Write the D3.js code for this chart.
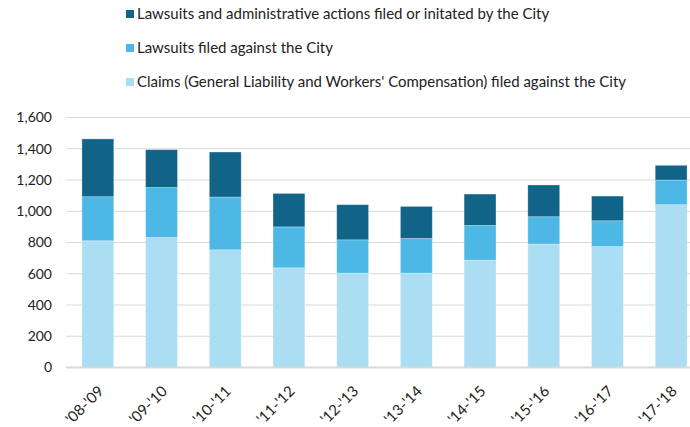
<!DOCTYPE html>
<html>
<head>
<meta charset="utf-8">
<script src="https://cdn.jsdelivr.net/npm/d3@7"></script>
<style>
  body { margin: 0; background: #fff; }
  text { font-family: Lato, "Open Sans", sans-serif; fill: #222; }
</style>
</head>
<body>
<script>
// fiscal years
const years = ["'08-'09", "'09-'10", "'10-'11", "'11-'12", "'12-'13", "'13-'14", "'14-'15", "'15-'16", "'16-'17", "'17-'18"];
// claims (general liability and workers' comp)
const claims = [811, 832, 753, 638, 604, 604, 687, 790, 774, 1042];
// lawsuits filed against the city
const suitsAgainst = [282, 320, 338, 262, 213, 222, 222, 175, 165, 158];
// lawsuits and admin actions by the city
const suitsByCity = [370, 242, 288, 214, 225, 205, 201, 203, 158, 94];
const yTicks = [0, 200, 400, 600, 800, 1000, 1200, 1400, 1600];

const seriesNames = [
    "Claims (General Liability and Workers' Compensation) filed against the City",
    "Lawsuits filed against the City",
    "Lawsuits and administrative actions filed or initated by the City"
];
const keys = ["claims", "against", "byCity"];
const colors = { claims: "#abdef3", against: "#4db8e6", byCity: "#126388" };

const w = 690, h = 427;
const m = { top: 117.5, right: -13, bottom: 59.5, left: 66 };

const svg = d3.select("body").append("svg")
    .attr("width", w)
    .attr("height", h);

const rows = years.map((y, i) => ({ year: y, claims: claims[i], against: suitsAgainst[i], byCity: suitsByCity[i] }));
const stacked = d3.stack().keys(keys)(rows);

const x = d3.scaleBand()
    .domain(years)
    .range([m.left, w - m.right])
    .paddingInner(0.5)
    .paddingOuter(0.25);

const y = d3.scaleLinear()
    .domain([0, 1600])
    .range([h - m.bottom, m.top]);

// gridlines
svg.append("g")
    .selectAll("line")
    .data(yTicks.slice(1))
    .enter()
    .append("line")
    .attr("x1", m.left)
    .attr("x2", w)
    .attr("y1", d => y(d))
    .attr("y2", d => y(d))
    .attr("stroke", "#d9d9d9")
    .attr("stroke-width", 1.2);

// bars
svg.append("g")
    .selectAll("g")
    .data(stacked)
    .enter()
    .append("g")
    .attr("fill", d => colors[d.key])
    .selectAll("rect")
    .data(d => d)
    .enter()
    .append("rect")
    .attr("x", d => x(d.data.year))
    .attr("y", d => y(d[1]))
    .attr("width", x.bandwidth())
    .attr("height", d => y(d[0]) - y(d[1]))
    .attr("stroke", "rgba(255,255,255,0.35)")
    .attr("stroke-width", 0.8);

// zero axis line
svg.append("line")
    .attr("x1", m.left)
    .attr("x2", w)
    .attr("y1", y(0))
    .attr("y2", y(0))
    .attr("stroke", "#d9d9d9")
    .attr("stroke-width", 2);

// y axis labels
const yAxis = d3.axisLeft(y).tickValues(yTicks).tickSize(0).tickPadding(14).tickFormat(d3.format(","));
const yg = svg.append("g")
    .attr("transform", "translate(" + m.left + ",0)")
    .call(yAxis);
yg.select(".domain").remove();
yg.selectAll("text").attr("font-size", 14).attr("font-family", null);

// x axis labels
const xAxis = d3.axisBottom(x).tickSize(0).tickPadding(0);
const xg = svg.append("g")
    .attr("transform", "translate(0," + (y(0) + 21) + ")")
    .call(xAxis);
xg.select(".domain").remove();
xg.selectAll("text")
    .attr("font-size", 15)
    .attr("font-family", null)
    .attr("text-anchor", "end")
    .attr("dy", "0.35em")
    .attr("transform", "translate(3,0) rotate(-45)");

// legend (top to bottom, reverse of stack)
const legend = svg.append("g");
const order = [2, 1, 0];
order.forEach((si, r) => {
    const ly = 14 + r * 34;
    legend.append("rect")
        .attr("x", 126)
        .attr("y", ly - 4)
        .attr("width", 8)
        .attr("height", 8)
        .attr("fill", colors[keys[si]]);
    legend.append("text")
        .attr("x", 137)
        .attr("y", ly)
        .attr("dy", "0.35em")
        .attr("font-size", 15)
        .text(seriesNames[si]);
});
</script>
</body>
</html>
